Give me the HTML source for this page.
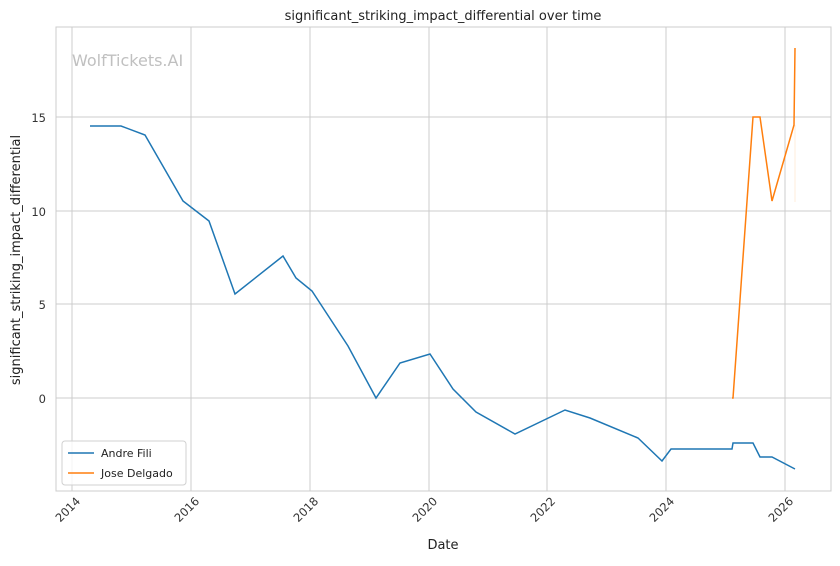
<!DOCTYPE html><html><head><style>body{margin:0;background:#fff}svg{font-family:"DejaVu Sans","Liberation Sans",sans-serif}</style></head><body>
<svg width="840" height="561" viewBox="0 0 840 561">
<rect width="840" height="561" fill="#fff"/>
<g stroke="#cccccc" stroke-width="1">
<line x1="72" y1="27" x2="72" y2="491"/><line x1="191" y1="27" x2="191" y2="491"/><line x1="310" y1="27" x2="310" y2="491"/><line x1="429" y1="27" x2="429" y2="491"/><line x1="547" y1="27" x2="547" y2="491"/><line x1="666" y1="27" x2="666" y2="491"/><line x1="785" y1="27" x2="785" y2="491"/>
<line x1="56" y1="117" x2="831" y2="117"/><line x1="56" y1="211" x2="831" y2="211"/><line x1="56" y1="304" x2="831" y2="304"/><line x1="56" y1="398" x2="831" y2="398"/>
</g>
<rect x="56" y="27" width="775" height="464" fill="none" stroke="#cccccc" stroke-width="1"/>
<text x="72" y="66" font-size="16" fill="#c0c0c0">WolfTickets.AI</text>
<polyline fill="none" stroke="#1f77b4" stroke-width="1.5" points="90,126 121,126 145,135 183,201 209,221 235,294 283,256 296,278 312,291 348,346 376,398 400,363 430,354 453,389 476,412 515,434 565,410 590,418 638,438 662,461 671,449 700,449 732,449 733,443 753,443 760,457 772,457 795,469"/>
<line x1="795" y1="125" x2="795" y2="202" stroke="#ff7f0e" stroke-opacity="0.15" stroke-width="1"/>
<polyline fill="none" stroke="#ff7f0e" stroke-width="1.5" points="732,398 733,398 753,117 760,117 772,201 794,125 795,48"/>
<g font-size="11.5" fill="#333" text-anchor="end">
<text x="46" y="122">15</text><text x="46" y="216">10</text><text x="46" y="309">5</text><text x="46" y="403">0</text>
</g>
<g font-size="11.5" fill="#333" text-anchor="end">
<text transform="translate(81,502) rotate(-45)">2014</text><text transform="translate(200,502) rotate(-45)">2016</text><text transform="translate(319,502) rotate(-45)">2018</text><text transform="translate(438,502) rotate(-45)">2020</text><text transform="translate(556,502) rotate(-45)">2022</text><text transform="translate(675,502) rotate(-45)">2024</text><text transform="translate(794,502) rotate(-45)">2026</text>
</g>
<text x="443" y="549" font-size="13" fill="#222" text-anchor="middle">Date</text>
<text transform="translate(20,260) rotate(-90)" font-size="13" fill="#222" text-anchor="middle">significant_striking_impact_differential</text>
<text x="443" y="20" font-size="13" fill="#222" text-anchor="middle">significant_striking_impact_differential over time</text>
<rect x="62" y="441" width="124" height="44" rx="3" fill="#fff" fill-opacity="0.8" stroke="#d0d0d0"/>
<line x1="68" y1="453" x2="94" y2="453" stroke="#1f77b4" stroke-width="1.5"/>
<text x="101" y="457" font-size="11" fill="#222">Andre Fili</text>
<line x1="68" y1="473" x2="94" y2="473" stroke="#ff7f0e" stroke-width="1.5"/>
<text x="101" y="477" font-size="11" fill="#222">Jose Delgado</text>
</svg>
</body></html>
